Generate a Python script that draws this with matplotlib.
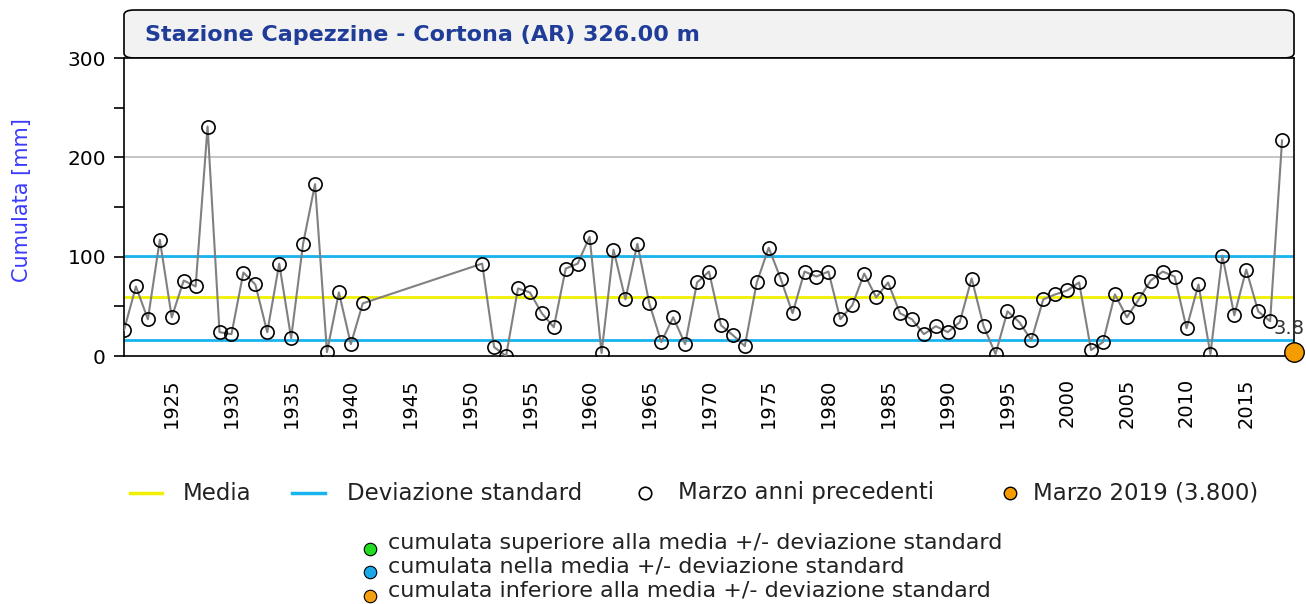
import matplotlib
matplotlib.use("Agg")
import matplotlib.pyplot as plt
from matplotlib.lines import Line2D
from matplotlib.patches import FancyBboxPatch

# ---------------- data ----------------
anni = list(range(1921, 1942)) + list(range(1951, 2019))
cumulata = [26, 70, 37, 117, 39, 76, 70, 231, 24, 22, 84, 72, 24, 93, 18, 113, 173, 4, 64, 12, 53,
            93, 9, 0, 68, 64, 43, 29, 88, 93, 120,
            3, 107, 57, 113, 53, 14, 39, 12, 74, 85,
            31, 21, 10, 74, 109, 78, 43, 85, 80, 85,
            37, 51, 83, 59, 74, 43, 37, 22, 30, 24,
            34, 78, 30, 2, 45, 34, 16, 57, 62, 66,
            74, 6, 14, 62, 39, 57, 76, 85, 80, 28,
            72, 2, 101, 41, 87, 45, 35, 217]
anno_corrente = 2019
valore_corrente = 3.8
media = 59.7
dev_sup = 100.7
dev_inf = 16.1
tick_anni = list(range(1925, 2016, 5))
tick_y = [0, 100, 200, 300]
titolo = "Stazione Capezzine - Cortona (AR) 326.00 m"
legenda1 = ["Media", "Deviazione standard", "Marzo anni precedenti", "Marzo 2019 (3.800)"]
legenda2 = ["cumulata superiore alla media +/- deviazione standard",
            "cumulata nella media +/- deviazione standard",
            "cumulata inferiore alla media +/- deviazione standard"]

W, H = 1306, 604
fig = plt.figure(figsize=(W / 100, H / 100), dpi=100)
plt.rcParams['font.family'] = ['DejaVu Sans']

def fx(px):
    return px / W

def fy(py):
    return 1 - py / H

ax_l, ax_r, ax_t, ax_b = 124, 1294, 58, 356
ax = fig.add_axes([fx(ax_l), fy(ax_b), fx(ax_r - ax_l), fy(ax_t) - fy(ax_b)])

# title box
box = FancyBboxPatch((fx(ax_l), fy(ax_t)), fx(ax_r - ax_l), fy(10) - fy(ax_t),
                     boxstyle="round,pad=0,rounding_size=0.008",
                     transform=fig.transFigure, facecolor="#f2f2f2",
                     edgecolor="black", linewidth=1.2, zorder=0)
fig.add_artist(box)
fig.text(fx(145), fy(41), titolo, color="#1f3c99", fontsize=16,
         fontweight="bold", ha="left", va="baseline")

ax.set_xlim(1921, 2019)
ax.set_ylim(0, 300)

for g in [100, 200]:
    ax.axhline(g, color="#bbbbbb", lw=1.2, zorder=1)
ax.axhline(media, color="#f0f000", lw=2, zorder=2)
ax.axhline(dev_sup, color="#18b4ee", lw=2, zorder=2)
ax.axhline(dev_inf, color="#18b4ee", lw=2, zorder=2)

ax.plot(anni, cumulata, color="#808080", lw=1.5, marker="o", markersize=9.5,
        markerfacecolor="none", markeredgecolor="black", markeredgewidth=1.2, zorder=3)
ax.plot([anno_corrente], [valore_corrente], marker="o", markersize=14,
        markerfacecolor="#f59c00", markeredgecolor="black", markeredgewidth=1.0,
        linestyle="none", clip_on=False, zorder=5)
ax.annotate("3.8", (anno_corrente, valore_corrente), xytext=(-21, 14),
            textcoords="offset pixels", fontsize=14, color="#333333",
            ha="left", va="bottom", annotation_clip=False, zorder=6)

ax.set_xticks(tick_anni)
ax.set_xticklabels([str(t) for t in tick_anni], rotation=90, fontsize=14)
ax.tick_params(axis="x", length=0, pad=16)
ax.set_yticks(tick_y)
ax.set_yticklabels([str(t) for t in tick_y], fontsize=14.5)
ax.set_yticks([50, 150, 250], minor=True)
ax.tick_params(axis="y", which="both", direction="out", length=7, width=1.2, pad=6)
for s in ax.spines.values():
    s.set_color("black")
    s.set_linewidth(1.2)

fig.text(fx(22), fy(200), "Cumulata [mm]", rotation=90, color="#3a3aff",
         fontsize=15, ha="center", va="center")

# legend row 1
fs1 = 16.5
ly = fy(493)
fig.add_artist(Line2D([fx(130), fx(162)], [ly, ly], color="#f0f000", lw=2.5))
fig.text(fx(183), ly, legenda1[0], fontsize=fs1, va="center", color="#222222")
fig.add_artist(Line2D([fx(292), fx(325)], [ly, ly], color="#18b4ee", lw=2.5))
fig.text(fx(347), ly, legenda1[1], fontsize=fs1, va="center", color="#222222")
fig.add_artist(Line2D([fx(645)], [ly], marker="o", markersize=9, markerfacecolor="white",
                      markeredgecolor="black", markeredgewidth=1.2, linestyle="none"))
fig.text(fx(678), ly, legenda1[2], fontsize=fs1, va="center", color="#222222")
fig.add_artist(Line2D([fx(1010)], [ly], marker="o", markersize=9, markerfacecolor="#f59c00",
                      markeredgecolor="black", markeredgewidth=1.0, linestyle="none"))
fig.text(fx(1033), ly, legenda1[3], fontsize=fs1, va="center", color="#222222")

# legend row 2
colori2 = ["#22dd22", "#1aa9e8", "#f5a010"]
ty = [543, 566, 590]
my = [549, 572, 596]
for lab, c, t, m in zip(legenda2, colori2, ty, my):
    fig.add_artist(Line2D([fx(370)], [fy(m)], marker="o", markersize=9, markerfacecolor=c,
                          markeredgecolor="black", markeredgewidth=0.8, linestyle="none"))
    fig.text(fx(388), fy(t), lab, fontsize=16, va="center", color="#222222")

fig.savefig("out.png", dpi=100)
